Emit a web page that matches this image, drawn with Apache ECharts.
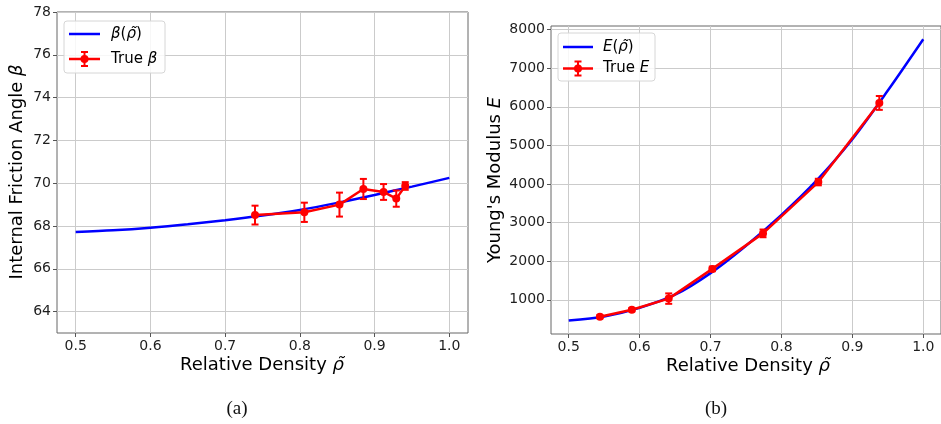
<!DOCTYPE html>
<html><head><meta charset="utf-8">
<script src="https://cdn.jsdelivr.net/npm/echarts@6/dist/echarts.min.js"></script>
<style>html,body{margin:0;padding:0;background:#fff}#c{width:941px;height:424px}</style>
</head><body><div id="c"></div>
<script>
// ---- tick labels ----
const xTicks = [0.5, 0.6, 0.7, 0.8, 0.9, 1.0];
const betaTicks = [64, 66, 68, 70, 72, 74, 76, 78];
const eTicks = [1000, 2000, 3000, 4000, 5000, 6000, 7000, 8000];

// ---- fitted curves ----
const curveRho = [0.5, 0.55, 0.6, 0.65, 0.7, 0.75, 0.8, 0.85, 0.9, 0.95, 1.0];
const betaCurve = [67.72, 67.80, 67.92, 68.08, 68.27, 68.49, 68.75, 69.08, 69.45, 69.84, 70.25];
const eCurve = [463, 565, 790, 1130, 1690, 2400, 3200, 4100, 5160, 6420, 7750];

// ---- true values with error bars ----
const betaRho = [0.740, 0.806, 0.853, 0.885, 0.912, 0.929, 0.941];
const betaTrue = [68.51, 68.64, 69.00, 69.73, 69.59, 69.28, 69.87];
const betaErr = [0.44, 0.45, 0.56, 0.47, 0.37, 0.38, 0.18];

const eRho = [0.544, 0.589, 0.641, 0.7025, 0.774, 0.852, 0.938];
const eTrue = [560, 740, 1030, 1800, 2720, 4050, 6100];
const eErr = [40, 40, 135, 60, 100, 85, 180];

const FONT = 'DejaVu Sans';
const TXT = '#1e1e1e';
const RED = '#ff0000', BLUE = '#0000ff';

const zip2 = (a, b) => a.map((v, i) => [v, b[i]]);
const zip3 = (a, b, c) => a.map((v, i) => [v, b[i], c[i]]);

function errRender(params, api) {
  const x = api.value(0), y = api.value(1), e = api.value(2);
  const t = api.coord([x, y + e]), b = api.coord([x, y - e]);
  const hw = 3.5;
  const st = { stroke: RED, lineWidth: 2 };
  return { type: 'group', children: [
    { type: 'line', shape: { x1: t[0], y1: t[1], x2: b[0], y2: b[1] }, style: st },
    { type: 'line', shape: { x1: t[0] - hw, y1: t[1], x2: t[0] + hw, y2: t[1] }, style: st },
    { type: 'line', shape: { x1: b[0] - hw, y1: b[1], x2: b[0] + hw, y2: b[1] }, style: st }
  ]};
}

function xAxisCfg(idx) {
  return {
    type: 'value', gridIndex: idx, min: 0.475, max: 1.025,
    axisLine: { show: false },
    axisTick: { show: true, length: 4, lineStyle: { color: '#555' }, customValues: xTicks },
    axisLabel: { customValues: xTicks, formatter: v => v.toFixed(1), color: TXT, fontFamily: FONT, fontSize: 14, margin: 6 },
    splitLine: { show: true, lineStyle: { color: '#cbcbcb', width: 1 } }
  };
}
function yAxisCfg(idx, min, max, ticks) {
  return {
    type: 'value', gridIndex: idx, min: min, max: max,
    axisLine: { show: false },
    axisTick: { show: true, length: 4, lineStyle: { color: '#555' }, customValues: ticks },
    axisLabel: { customValues: ticks, formatter: v => String(Math.round(v)), color: TXT, fontFamily: FONT, fontSize: 14, margin: 6 },
    splitLine: { show: true, lineStyle: { color: '#cbcbcb', width: 1 } }
  };
}

const rich = {
  n: { fontFamily: FONT, fontSize: 18, color: TXT },
  i: { fontFamily: FONT, fontSize: 18, color: TXT, fontStyle: 'italic' }
};
const richL = {
  n: { fontFamily: FONT, fontSize: 15, color: TXT },
  i: { fontFamily: FONT, fontSize: 15, color: TXT, fontStyle: 'italic' }
};

function legend(x0, y0, w, h, lx1, lx2, yb, yr, tx, label1, label2) {
  const mx = (lx1 + lx2) / 2;
  const st = { stroke: RED, lineWidth: 2 };
  return [
    { type: 'rect', shape: { x: x0, y: y0, width: w, height: h, r: 3 }, style: { fill: 'rgba(255,255,255,0.85)', stroke: '#d6d6d6', lineWidth: 1 }, z: 100 },
    { type: 'line', shape: { x1: lx1, y1: yb, x2: lx2, y2: yb }, style: { stroke: BLUE, lineWidth: 2.5 }, z: 101 },
    { type: 'text', x: tx, y: yb, style: { text: label1, rich: richL, verticalAlign: 'middle', align: 'left' }, z: 101 },
    { type: 'line', shape: { x1: lx1, y1: yr, x2: lx2, y2: yr }, style: { stroke: RED, lineWidth: 2.5 }, z: 101 },
    { type: 'line', shape: { x1: mx, y1: yr - 7, x2: mx, y2: yr + 7 }, style: st, z: 101 },
    { type: 'line', shape: { x1: mx - 3.5, y1: yr - 7, x2: mx + 3.5, y2: yr - 7 }, style: st, z: 101 },
    { type: 'line', shape: { x1: mx - 3.5, y1: yr + 7, x2: mx + 3.5, y2: yr + 7 }, style: st, z: 101 },
    { type: 'circle', shape: { cx: mx, cy: yr, r: 4 }, style: { fill: RED }, z: 101 },
    { type: 'text', x: tx, y: yr, style: { text: label2, rich: richL, verticalAlign: 'middle', align: 'left' }, z: 101 }
  ];
}

const chart = echarts.init(document.getElementById('c'), null, { renderer: 'canvas' });
chart.setOption({
  animation: false,
  backgroundColor: '#fff',
  grid: [
    { left: 57, top: 12, width: 411, height: 321, show: true, borderColor: '#666', borderWidth: 1, backgroundColor: 'transparent' },
    { left: 551, top: 26, width: 396, height: 308, show: true, borderColor: '#666', borderWidth: 1, backgroundColor: 'transparent' }
  ],
  xAxis: [xAxisCfg(0), xAxisCfg(1)],
  yAxis: [yAxisCfg(0, 63, 78, betaTicks), yAxisCfg(1, 113, 8093, eTicks)],
  series: [
    { type: 'line', xAxisIndex: 0, yAxisIndex: 0, data: zip2(curveRho, betaCurve), smooth: 0.3, showSymbol: false, lineStyle: { color: BLUE, width: 2.5 }, z: 2 },
    { type: 'line', xAxisIndex: 0, yAxisIndex: 0, data: zip2(betaRho, betaTrue), symbol: 'circle', symbolSize: 8, itemStyle: { color: RED }, lineStyle: { color: RED, width: 2.5 }, z: 3 },
    { type: 'custom', xAxisIndex: 0, yAxisIndex: 0, data: zip3(betaRho, betaTrue, betaErr), encode: { x: 0, y: 1 }, renderItem: errRender, z: 4 },
    { type: 'line', xAxisIndex: 1, yAxisIndex: 1, data: zip2(curveRho, eCurve), smooth: 0.3, showSymbol: false, lineStyle: { color: BLUE, width: 2.5 }, z: 2 },
    { type: 'line', xAxisIndex: 1, yAxisIndex: 1, data: zip2(eRho, eTrue), symbol: 'circle', symbolSize: 8, itemStyle: { color: RED }, lineStyle: { color: RED, width: 2.5 }, z: 3 },
    { type: 'custom', xAxisIndex: 1, yAxisIndex: 1, data: zip3(eRho, eTrue, eErr), encode: { x: 0, y: 1 }, renderItem: errRender, z: 4 }
  ],
  graphic: [
    { type: 'text', x: 17, y: 172, rotation: Math.PI / 2, style: { text: '{n|Internal Friction Angle }{i|β}', rich: rich, align: 'center', verticalAlign: 'middle' } },
    { type: 'text', x: 262, y: 365, style: { text: '{n|Relative Density }{i|ρ̃}', rich: rich, align: 'center', verticalAlign: 'middle' } },
    { type: 'text', x: 495, y: 180, rotation: Math.PI / 2, style: { text: "{n|Young's Modulus }{i|E}", rich: rich, align: 'center', verticalAlign: 'middle' } },
    { type: 'text', x: 748, y: 366, style: { text: '{n|Relative Density }{i|ρ̃}', rich: rich, align: 'center', verticalAlign: 'middle' } },
    { type: 'text', x: 237, y: 409, style: { text: '(a)', font: '19px "Liberation Serif"', fill: '#111', align: 'center', verticalAlign: 'middle' } },
    { type: 'text', x: 716, y: 409, style: { text: '(b)', font: '19px "Liberation Serif"', fill: '#111', align: 'center', verticalAlign: 'middle' } },
    ...legend(64, 21, 101, 52, 69, 100, 34, 59, 111, '{i|β}{n|(}{i|ρ̃}{n|)}', '{n|True }{i|β}'),
    ...legend(558, 33, 97, 48, 563, 593, 47, 68.5, 603, '{i|E}{n|(}{i|ρ̃}{n|)}', '{n|True }{i|E}')
  ]
});
</script></body></html>
